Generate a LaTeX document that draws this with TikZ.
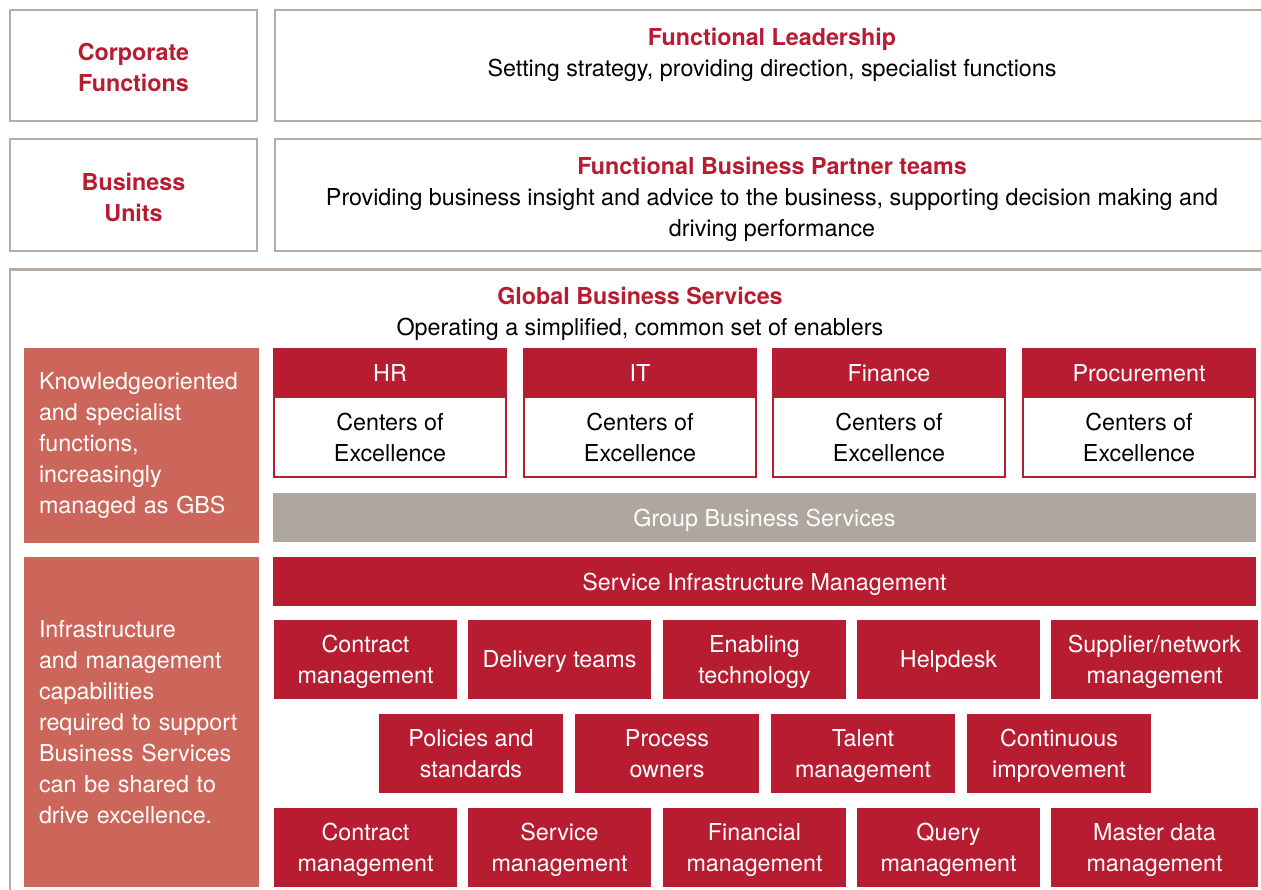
\documentclass[tikz,border=0pt]{standalone}
\usepackage{fontspec}
\setmainfont{TeX Gyre Heros}
\definecolor{gbsred}{RGB}{184,28,49}
\definecolor{gbspink}{RGB}{204,102,91}
\definecolor{gbsgray}{RGB}{175,166,157}
\definecolor{framegray}{RGB}{182,172,164}
\begin{document}
\begin{tikzpicture}[x=1pt, y=-1pt, font=\fontsize{23.3}{31}\selectfont,
	every node/.style={outer sep=0pt, inner sep=0pt, text depth=0pt},
	framebox/.style={draw=framegray, line width=2.5pt, anchor=north west},
	headtext/.style={align=center, text=gbsred, font=\fontsize{23.3}{31}\selectfont\bfseries},
	sidebox/.style={fill=gbspink, text=white, anchor=north west, align=left, text width=205pt, inner xsep=15pt, text depth=, minimum height=#1},
	redhead/.style={fill=gbsred, text=white, anchor=north west, minimum width=234pt, minimum height=50pt},
	cobody/.style={draw=gbsred, line width=1.5pt, fill=white, anchor=north west, align=center, minimum width=232pt, minimum height=80pt},
	bar/.style={fill=#1, text=white, anchor=north west, minimum width=983pt, minimum height=49pt},
	redbox/.style={fill=gbsred, text=white, anchor=north west, align=center, minimum width=#1, minimum height=79pt}]
	
	\useasboundingbox (0,0) rectangle (1261,890);
	\clip (0,0) rectangle (1261,890);
	
	% Kopfzeilen
	\node[framebox, minimum width=247pt, minimum height=111pt] (corpbox) at (10,10) {};
	\node[framebox, minimum width=1000pt, minimum height=111pt] (leadbox) at (275,10) {};
	\node[headtext] (corptext) at (133.5,67) {Corporate\\Functions};
	\node[align=center] (leadtext) at (772,52) {\textcolor{gbsred}{\bfseries Functional Leadership}\\Setting strategy, providing direction, specialist functions};
	
	\node[framebox, minimum width=247pt, minimum height=112pt] (unitbox) at (10,139) {};
	\node[framebox, minimum width=1000pt, minimum height=112pt] (partnerbox) at (275,139) {};
	\node[headtext] (unittext) at (133.5,197) {Business\\Units};
	\node[align=center] (partnertext) at (772,197) {\textcolor{gbsred}{\bfseries Functional Business Partner teams}\\Providing business insight and advice to the business, supporting decision making and\\driving performance};
	
	% GBS
	\node[framebox, minimum width=1265pt, minimum height=640pt] (gbsbox) at (10,269.5) {};
	\node[align=center] (gbstext) at (640,311) {\textcolor{gbsred}{\bfseries Global Business Services}\\Operating a simplified, common set of enablers};
	
	\node[sidebox=195pt] (knowside) at (24,348) {Knowledgeoriented\\and specialist\\functions,\\increasingly\\managed as GBS};
	\node[sidebox=330pt] (infraside) at (24,557) {Infrastructure\\and management\\capabilities\\required to support\\Business Services\\can be shared to\\drive excellence.};
	
	% Centers of Excellence
	\node[cobody] (hrbody) at (274,397) {Centers of\\Excellence};
	\node[redhead] (hrhead) at (273,348) {HR};
	\node[cobody] (itbody) at (524,397) {Centers of\\Excellence};
	\node[redhead] (ithead) at (523,348) {IT};
	\node[cobody] (finbody) at (773,397) {Centers of\\Excellence};
	\node[redhead] (finhead) at (772,348) {Finance};
	\node[cobody] (procbody) at (1023,397) {Centers of\\Excellence};
	\node[redhead] (prochead) at (1022,348) {Procurement};
	
	\node[bar=gbsgray] (groupbar) at (273,493) {Group Business Services};
	\node[bar=gbsred] (simbar) at (273,557) {Service Infrastructure Management};
	
	% Reihe 1
	\node[redbox=183pt] (contract) at (274,620) {Contract\\management};
	\node[redbox=183pt] (delivery) at (468,620) {Delivery teams};
	\node[redbox=183pt] (enabling) at (663,620) {Enabling\\technology};
	\node[redbox=183pt] (helpdesk) at (857,620) {Helpdesk};
	\node[redbox=207pt] (supplier) at (1051,620) {Supplier/network\\management};
	
	% Reihe 2
	\node[redbox=184pt] (policies) at (379,714) {Policies and\\standards};
	\node[redbox=184pt] (process) at (575,714) {Process\\owners};
	\node[redbox=184pt] (talent) at (771,714) {Talent\\management};
	\node[redbox=184pt] (continuous) at (967,714) {Continuous\\improvement};
	
	% Reihe 3
	\node[redbox=183pt] (contracttwo) at (274,808) {Contract\\management};
	\node[redbox=183pt] (service) at (468,808) {Service\\management};
	\node[redbox=183pt] (financial) at (663,808) {Financial\\management};
	\node[redbox=183pt] (query) at (857,808) {Query\\management};
	\node[redbox=207pt] (masterdata) at (1051,808) {Master data\\management};
\end{tikzpicture}
\end{document}
